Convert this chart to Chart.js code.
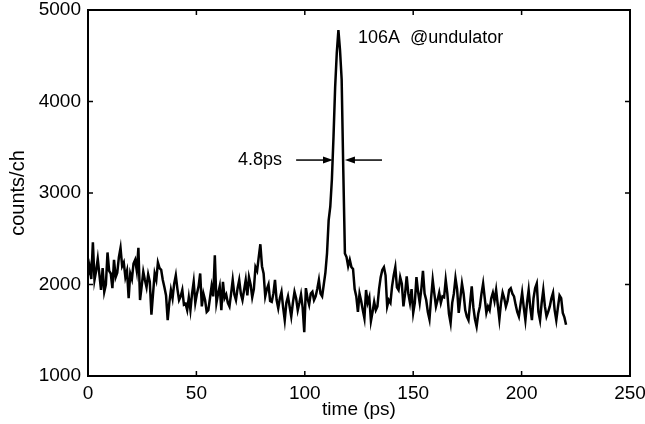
<!DOCTYPE html>
<html>
<head>
<meta charset="utf-8">
<script src="https://cdn.jsdelivr.net/npm/chart.js@4.4.0/dist/chart.umd.min.js"></script>
<style>
  html, body { margin: 0; padding: 0; background: #fff; }
  #wrap { width: 645px; height: 424px; }
</style>
</head>
<body>
<div id="wrap"><canvas id="myChart"></canvas></div>
<script>
// streak camera channels, one every 0.75 ps starting at 0
const timeStart = 0;
const timeStep = 0.75;

// counts per channel
const counts = [
  2100, 2200, 2060, 2460, 2050, 2150, 2280, 2110, 1940, 2180, 1920, 2000, 2350, 2150, 2120, 1960, 2270, 2080, 2130, 2300,
  2400, 2200, 2240, 2080, 2150, 1850, 2120, 2060, 2230, 2270, 2150, 2400, 1830, 1980, 2140, 2050, 1970, 2110, 2030, 1670,
  1900, 2120, 2050, 2240, 2180, 2160, 2050, 1970, 1880, 1610, 1800, 1940, 1850, 2010, 2100, 1950, 1830, 1870, 1940, 1780,
  1790, 1720, 1860, 1720, 1900, 2030, 1800, 1900, 1980, 2120, 1760, 1900, 1830, 1700, 1720, 1850, 1980, 1870, 2320, 1800,
  1900, 1980, 1720, 2030, 1850, 1890, 1800, 1760, 1900, 2050, 1890, 1830, 1960, 2050, 1900, 1830, 1940, 2050, 1880, 2080,
  2000, 1860, 1950, 2190, 2150, 2300, 2440, 2200, 2120, 1870, 1950, 2000, 1820, 1810, 1900, 2050, 1830, 1740, 1850, 1920,
  1750, 1610, 1800, 1870, 1760, 1650, 1800, 1920, 1850, 1720, 1800, 1890, 1750, 1480, 1960, 1850, 1780, 1900, 1920, 1830,
  1870, 1950, 2050, 1900, 1870, 2000, 2130, 2340, 2700, 2850, 3150, 3620, 4160, 4530, 4780, 4560, 4240, 3250, 2340, 2300,
  2200, 2270, 2190, 2170, 1950, 1870, 1700, 1900, 1820, 1720, 1630, 1940, 1800, 1860, 1600, 1700, 1810, 1720, 1760, 1950,
  2080, 2160, 2190, 2100, 1760, 1830, 1800, 1980, 2100, 2190, 1970, 1940, 2080, 2010, 1760, 1900, 2090, 1900, 1800, 1950,
  1690, 1800, 2080, 1920, 1800, 1950, 2150, 1900, 1830, 1700, 1620, 1850, 2050, 1900, 1760, 1830, 1910, 1800, 1870, 1860,
  2050, 1900, 1680, 1580, 1800, 1900, 2070, 1950, 1690, 1850, 2010, 1900, 1720, 1650, 1610, 1800, 1980, 1750, 1620, 1540,
  1680, 1760, 1900, 2010, 1850, 1690, 1760, 1720, 1850, 1910, 1820, 1940, 1780, 1620, 1800, 1910, 1850, 1760, 1820, 1940,
  1960, 1900, 1870, 1780, 1700, 1650, 1780, 1910, 1750, 1610, 1800, 1940, 1750, 1610, 1850, 1960, 2010, 1700, 1610, 1800,
  1940, 1760, 1650, 1700, 1760, 1850, 1910, 1720, 1610, 1750, 1880, 1850, 1690, 1640, 1560
];

const xTicks = [0, 50, 100, 150, 200, 250];
const yTicks = [1000, 2000, 3000, 4000, 5000];

// FWHM marker: level and the two arrow spans (ps)
const fwhmLevel = 3360;
const leftArrow = [96, 113];
const rightArrow = [135.6, 118.5];
const fwhmText = '4.8ps';
const notes = [
  { text: '106A', x: 124.5, y: 4690 },
  { text: '@undulator', x: 148.5, y: 4690 }
];

const points = [];
for (let i = 0; i < counts.length; i++) {
  points.push({ x: timeStart + i * timeStep, y: counts[i] });
}

const FONT = '"Liberation Sans", Arial, sans-serif';

// box around the plot with inward ticks on all four sides
const boxPlugin = {
  id: 'boxPlugin',
  afterDraw(chart) {
    const ctx = chart.ctx;
    const a = chart.chartArea;
    const xs = chart.scales.x, ys = chart.scales.y;
    ctx.save();
    ctx.strokeStyle = '#000';
    ctx.lineWidth = 2;
    ctx.strokeRect(a.left, a.top, a.right - a.left, a.bottom - a.top);
    ctx.lineWidth = 1.5;
    ctx.beginPath();
    xTicks.forEach(function (v) {
      const px = xs.getPixelForValue(v);
      ctx.moveTo(px, a.bottom); ctx.lineTo(px, a.bottom - 5);
      ctx.moveTo(px, a.top); ctx.lineTo(px, a.top + 5);
    });
    yTicks.forEach(function (v) {
      const py = ys.getPixelForValue(v);
      ctx.moveTo(a.left, py); ctx.lineTo(a.left + 5, py);
      ctx.moveTo(a.right, py); ctx.lineTo(a.right - 5, py);
    });
    ctx.stroke();

    // arrows
    const yy = ys.getPixelForValue(fwhmLevel);
    function arrow(x0, x1) {
      const p0 = xs.getPixelForValue(x0), p1 = xs.getPixelForValue(x1);
      const dir = p1 > p0 ? 1 : -1;
      ctx.lineWidth = 1.5;
      ctx.beginPath();
      ctx.moveTo(p0, yy); ctx.lineTo(p1 - dir * 6, yy);
      ctx.stroke();
      ctx.beginPath();
      ctx.moveTo(p1, yy);
      ctx.lineTo(p1 - dir * 10, yy - 3.5);
      ctx.lineTo(p1 - dir * 10, yy + 3.5);
      ctx.closePath();
      ctx.fillStyle = '#000';
      ctx.fill();
    }
    arrow(leftArrow[0], leftArrow[1]);
    arrow(rightArrow[0], rightArrow[1]);

    ctx.fillStyle = '#000';
    ctx.font = '18px ' + FONT;
    ctx.textBaseline = 'middle';
    ctx.textAlign = 'right';
    ctx.fillText(fwhmText, xs.getPixelForValue(89.5), yy);
    ctx.textAlign = 'left';
    notes.forEach(function (n) {
      ctx.fillText(n.text, xs.getPixelForValue(n.x), ys.getPixelForValue(n.y));
    });
    ctx.restore();
  }
};

window.addEventListener('load', function () {
  const ctx = document.getElementById('myChart');
  new Chart(ctx, {
    type: 'line',
    data: {
      datasets: [{
        data: points,
        borderColor: '#000',
        borderWidth: 2.5,
        pointRadius: 0,
        tension: 0,
        fill: false
      }]
    },
    options: {
      responsive: true,
      maintainAspectRatio: false,
      animation: false,
      layout: { padding: { top: 10, right: 15, left: 0, bottom: 0 } },
      plugins: { legend: { display: false }, tooltip: { enabled: false } },
      scales: {
        x: {
          type: 'linear',
          min: 0, max: 250,
          afterFit: function (s) { s.height = 48; s.paddingLeft = 0; s.paddingRight = 0; },
          afterBuildTicks: function (s) { s.ticks = xTicks.map(function (v) { return { value: v }; }); },
          grid: { display: false, drawTicks: false },
          border: { display: false },
          ticks: { color: '#000', font: { family: FONT, size: 19 }, padding: 6, maxRotation: 0,
                   callback: function (v) { return String(v); } },
          title: { display: true, text: 'time (ps)', color: '#000', font: { family: FONT, size: 19 }, padding: { top: 0, bottom: 3 } }
        },
        y: {
          type: 'linear',
          min: 1000, max: 5000,
          afterFit: function (s) { s.width = 88; s.paddingTop = 0; s.paddingBottom = 0; },
          afterBuildTicks: function (s) { s.ticks = yTicks.map(function (v) { return { value: v }; }); },
          grid: { display: false, drawTicks: false },
          border: { display: false },
          ticks: { color: '#000', font: { family: FONT, size: 19 }, padding: 7,
                   callback: function (v) { return String(v); } },
          title: { display: true, text: 'counts/ch', color: '#000', font: { family: FONT, size: 20 }, padding: { top: 6, bottom: 0 } }
        }
      }
    },
    plugins: [boxPlugin]
  });
});
</script>
</body>
</html>
